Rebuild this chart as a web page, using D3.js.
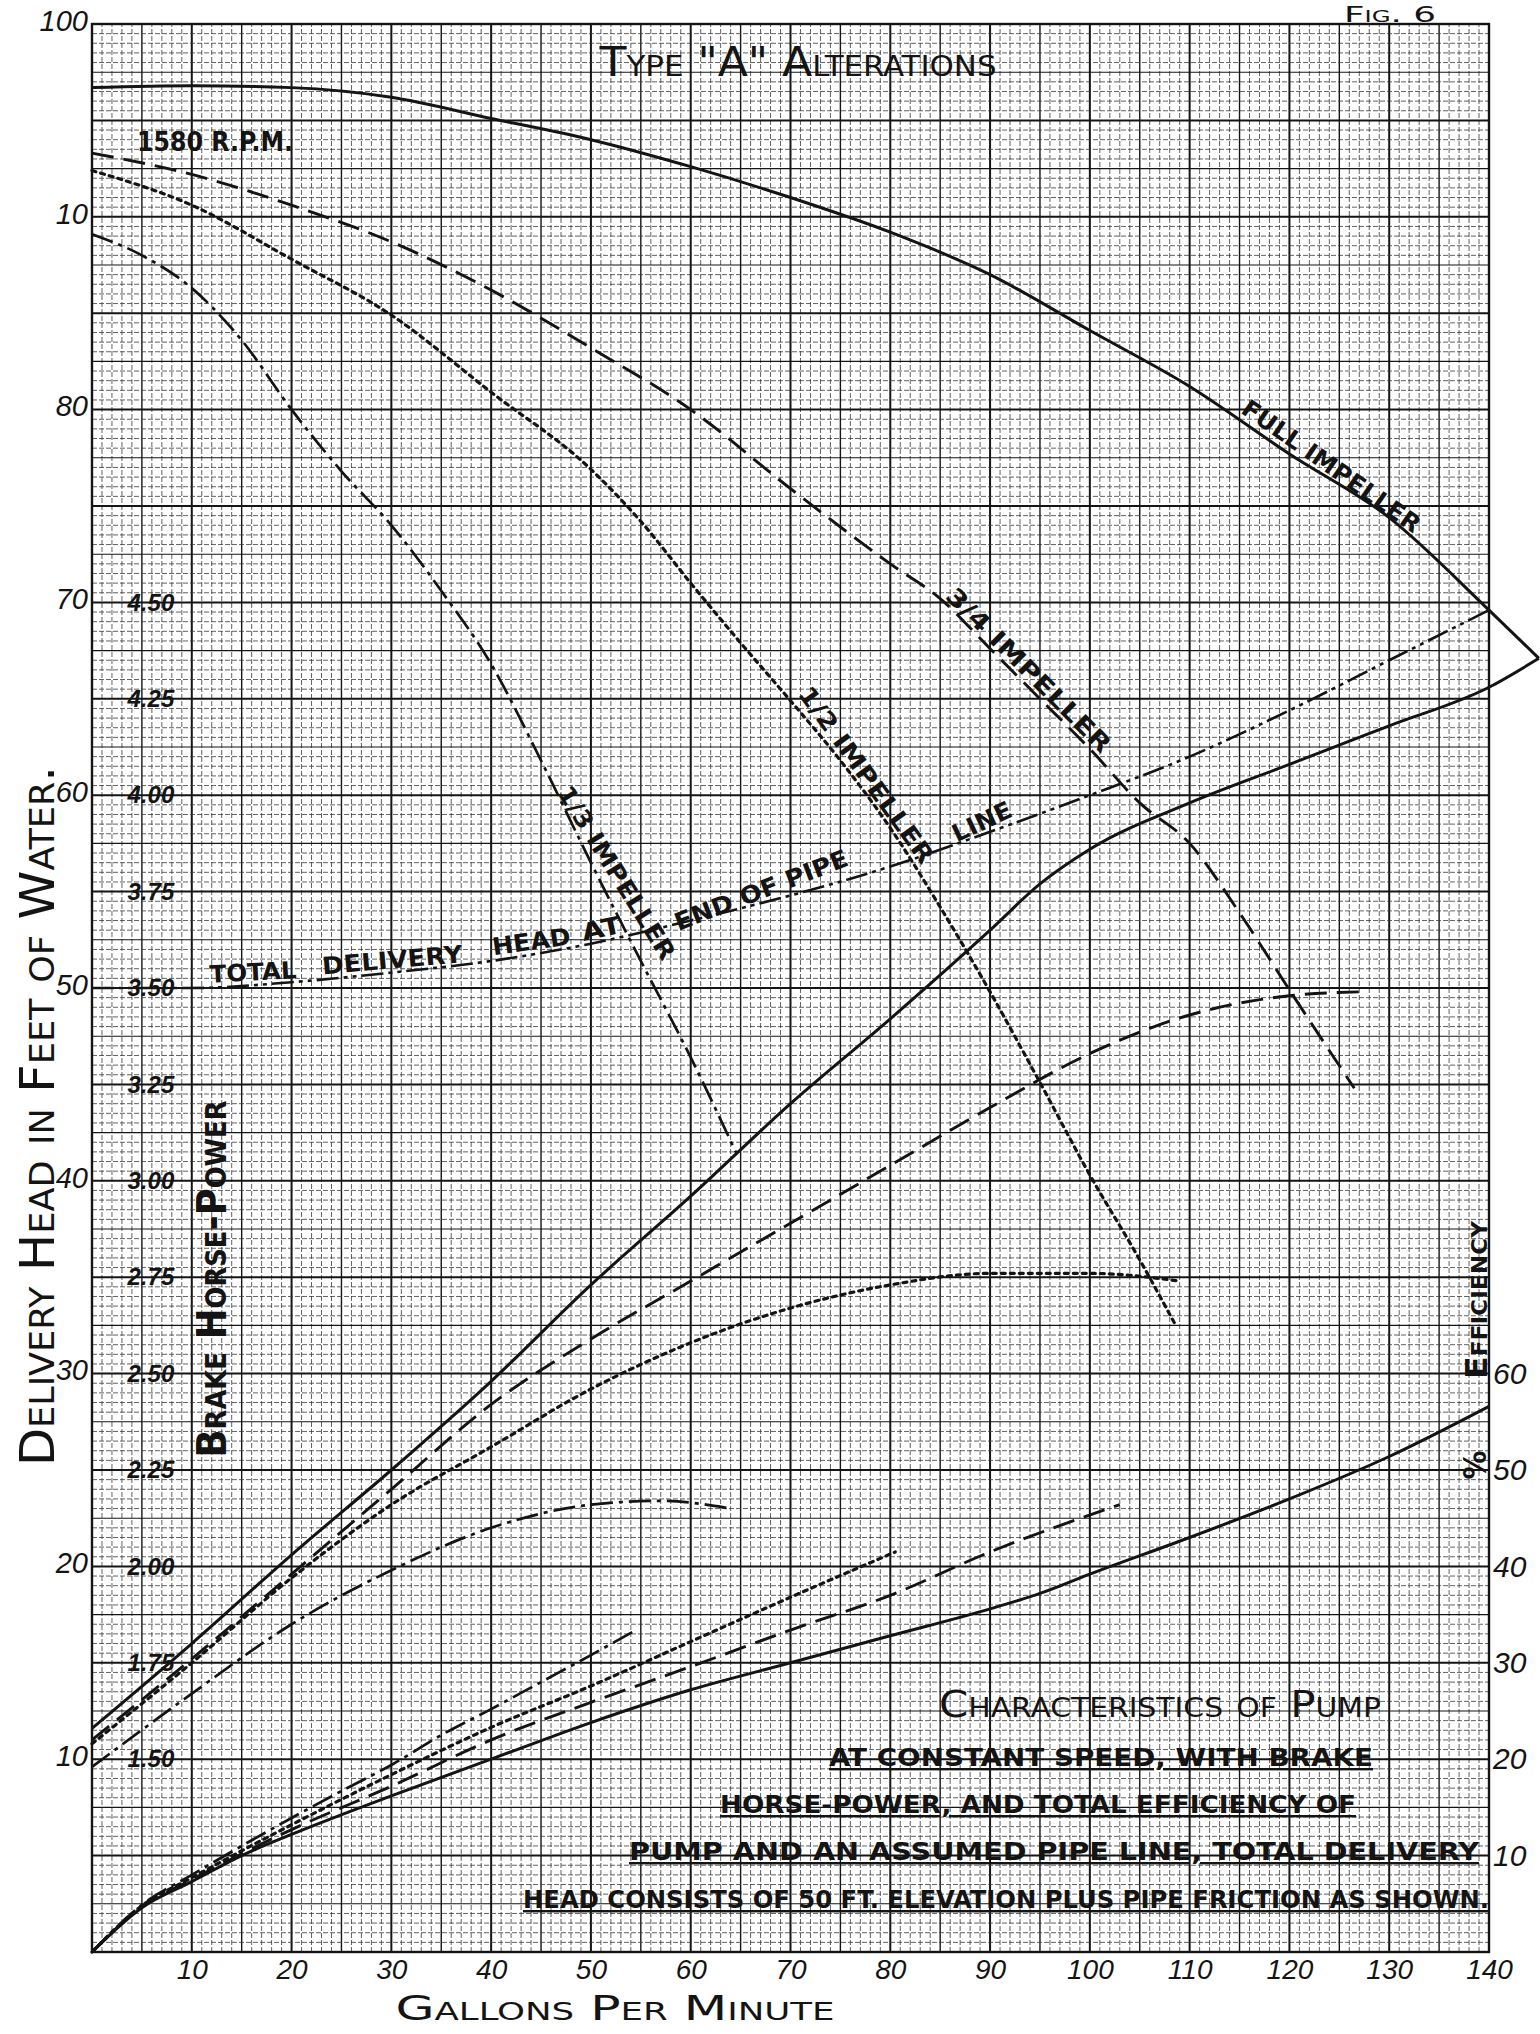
<!DOCTYPE html>
<html>
<head>
<meta charset="utf-8">
<title>Fig. 6 - Type "A" Alterations</title>
<script src="https://cdn.jsdelivr.net/npm/d3@7"></script>
<style>
  body { margin: 0; background: #fff; }
  svg { display: block; }
</style>
</head>
<body>
<div id="container"></div>
<script>
// ---- tick labels -------------------------------------------------------
const gpmTicks = [10, 20, 30, 40, 50, 60, 70, 80, 90, 100, 110, 120, 130, 140];
const headTicks = [100, 90, 80, 70, 60, 50, 40, 30, 20, 10];
// the 90 mark is lettered like "10" on the sheet
const headTickLabels = ["100", "10", "80", "70", "60", "50", "40", "30", "20", "10"];
const bhpTicks = [1.50, 1.75, 2.00, 2.25, 2.50, 2.75, 3.00, 3.25, 3.50, 3.75, 4.00, 4.25, 4.50];
const effTicks = [10, 20, 30, 40, 50, 60];

// ---- delivery head, ft  [gpm, ft] ---------------------------------------
const headFull = [[0, 96.7], [10, 96.8], [20, 96.7], [30, 96.2], [40, 95.1], [50, 94.0], [60, 92.6],
  [70, 91.0], [80, 89.2], [90, 87.0], [100, 84.1], [110, 81.2], [120, 77.7], [130, 74.4],
  [140, 69.6], [145, 67.1]];
const headThreeQ = [[0, 93.3], [10, 92.2], [20, 90.6], [30, 88.7], [40, 86.2], [50, 83.2], [60, 80.0],
  [70, 75.9], [80, 72.0], [85, 70.2], [90, 67.6], [95, 65.0], [100, 62.4], [105, 59.6], [110, 57.5],
  [115, 53.9], [120, 49.9], [126.5, 44.8]];
const headHalf = [[0, 92.4], [10, 90.6], [20, 87.8], [30, 84.9], [40, 80.9], [50, 76.9], [55, 74.2],
  [60, 71.0], [65, 67.9], [70, 64.9], [75, 61.8], [80, 58.3], [85, 54.2], [90, 49.8], [95, 45.1],
  [100, 40.3], [105, 35.9], [108.5, 32.6]];
const headThird = [[0, 89.1], [5, 88.0], [10, 86.3], [15, 83.6], [20, 80.0], [25, 76.8], [30, 74.0],
  [35, 70.6], [40, 66.8], [45, 61.8], [50, 56.5], [55, 51.4], [60, 46.4], [64.6, 41.4]];
const headPipe = [[0, 50.0], [10, 50.0], [20, 50.3], [30, 50.8], [40, 51.4], [50, 52.3], [60, 53.5],
  [70, 54.8], [80, 56.3], [90, 58.1], [100, 60.0], [110, 62.0], [120, 64.4], [130, 67.0], [140, 69.6]];

// ---- brake horse-power  [gpm, hp] ----------------------------------------
const bhpFull = [[0, 1.58], [10, 1.80], [20, 2.03], [30, 2.25], [40, 2.48], [50, 2.73], [60, 2.96],
  [70, 3.20], [80, 3.42], [90, 3.65], [95, 3.77], [100, 3.86], [110, 3.98], [120, 4.08], [130, 4.18],
  [140, 4.28], [145, 4.355]];
const bhpThreeQ = [[0, 1.55], [10, 1.76], [20, 1.98], [30, 2.20], [40, 2.42], [50, 2.59], [60, 2.74],
  [70, 2.89], [80, 3.04], [90, 3.19], [100, 3.33], [110, 3.43], [120, 3.48], [127, 3.49]];
const bhpHalf = [[0, 1.54], [10, 1.75], [20, 1.97], [30, 2.16], [40, 2.31], [50, 2.46], [60, 2.58],
  [70, 2.67], [80, 2.73], [90, 2.76], [100, 2.76], [109, 2.74]];
const bhpThird = [[0, 1.48], [10, 1.67], [20, 1.85], [30, 1.99], [40, 2.10], [50, 2.16], [57, 2.17],
  [64, 2.15]];

// ---- total efficiency, %  [gpm, %] --------------------------------------
const effFull = [[0, 0], [5, 4.6], [10, 7.3], [15, 10.0], [20, 12.2], [30, 16.2], [40, 20.0],
  [50, 23.8], [60, 27.2], [70, 30.0], [80, 32.8], [90, 35.6], [95, 37.2], [100, 39.2], [110, 43.0],
  [120, 47.0], [130, 51.4], [140, 56.6]];
const effThreeQ = [[0, 0], [5, 4.7], [10, 7.5], [15, 10.2], [20, 12.7], [30, 17.2], [40, 22.0],
  [50, 25.9], [60, 29.6], [70, 33.4], [80, 37.0], [90, 41.5], [103, 46.4]];
const effHalf = [[0, 0], [5, 4.8], [10, 7.7], [15, 10.5], [20, 13.2], [30, 18.4], [40, 23.3],
  [50, 27.6], [60, 32.2], [70, 36.8], [80.5, 41.5]];
const effThird = [[0, 0], [5, 4.9], [10, 8.0], [15, 11.0], [20, 13.9], [25, 16.7], [30, 19.4],
  [35, 22.5], [40, 25.2], [45, 28.0], [50, 30.8], [54.5, 33.4]];

// ---- sizes -----------------------------------------------------------------
const WIDTH = 1540, HEIGHT = 2034;
const margin = { left: 92, right: 51, top: 24, bottom: 82 };
const x0 = margin.left, x1 = WIDTH - margin.right;
const y0 = HEIGHT - margin.bottom, y1 = margin.top;

const hand = "'Liberation Sans Narrow','DejaVu Sans Condensed','Liberation Sans',sans-serif";
const ink = "#141414";

const svg = d3.select('#container').append('svg')
  .attr('width', WIDTH).attr('height', HEIGHT)
  .attr('font-family', hand);

svg.append('rect').attr('width', WIDTH).attr('height', HEIGHT).attr('fill', '#fff');

// one x scale, three y scales sharing the same sheet height
const x = d3.scaleLinear().domain([0, 140]).range([x0, x1]);
const yHead = d3.scaleLinear().domain([0, 100]).range([y0, y1]);
const yBhp = d3.scaleLinear().domain([1, 6]).range([y0, y1]);     // 1.50 hp sits on 10 ft
const yEff = d3.scaleLinear().domain([0, 200]).range([y0, y1]);   // 10 % sits on 5 ft

// ---- graph paper ------------------------------------------------------------
const grid = svg.append('g');
const vLines = d3.range(1, 140);
const hLines = d3.range(0.5, 100, 0.5);

grid.selectAll('line.v').data(vLines).join('line')
  .attr('x1', d => x(d)).attr('x2', d => x(d))
  .attr('y1', y0).attr('y2', y1)
  .attr('stroke', d => d % 5 === 0 ? '#151515' : '#3a3a3a')
  .attr('stroke-width', d => d % 10 === 0 ? 2.0 : d % 5 === 0 ? 1.4 : 0.8)
  .attr('stroke-dasharray', d => d % 5 === 0 ? null : '5,2');

grid.selectAll('line.h').data(hLines).join('line')
  .attr('y1', d => yHead(d)).attr('y2', d => yHead(d))
  .attr('x1', x0).attr('x2', x1)
  .attr('stroke', d => d % 2.5 === 0 ? '#151515' : '#3a3a3a')
  .attr('stroke-width', d => d % 5 === 0 ? 2.0 : d % 2.5 === 0 ? 1.1 : 0.8)
  .attr('stroke-dasharray', d => d % 2.5 === 0 ? null : '5,2');

grid.append('rect')
  .attr('x', x0).attr('y', y1)
  .attr('width', x1 - x0).attr('height', y0 - y1)
  .attr('fill', 'none').attr('stroke', ink).attr('stroke-width', 2.4);

// ---- curves ---------------------------------------------------------------------
const styles = {
  full:   { dash: null,                w: 3.0 },
  threeQ: { dash: '22,10',             w: 2.9 },
  half:   { dash: '4,5',               w: 3.2 },
  third:  { dash: '22,6,4,6',          w: 2.7 },
  pipe:   { dash: '22,5,4,5,4,5',      w: 2.6 }
};

const curves = [
  { data: headFull,   y: yHead, s: 'full' },
  { data: headThreeQ, y: yHead, s: 'threeQ' },
  { data: headHalf,   y: yHead, s: 'half' },
  { data: headThird,  y: yHead, s: 'third' },
  { data: headPipe,   y: yHead, s: 'pipe' },
  { data: bhpFull,    y: yBhp,  s: 'full' },
  { data: bhpThreeQ,  y: yBhp,  s: 'threeQ' },
  { data: bhpHalf,    y: yBhp,  s: 'half' },
  { data: bhpThird,   y: yBhp,  s: 'third' },
  { data: effFull,    y: yEff,  s: 'full' },
  { data: effThreeQ,  y: yEff,  s: 'threeQ' },
  { data: effHalf,    y: yEff,  s: 'half' },
  { data: effThird,   y: yEff,  s: 'third' }
];

svg.append('g').selectAll('path').data(curves).join('path')
  .attr('d', c => d3.line().x(d => x(d[0])).y(d => c.y(d[1])).curve(d3.curveMonotoneX)(c.data))
  .attr('fill', 'none')
  .attr('stroke', ink)
  .attr('stroke-width', c => styles[c.s].w)
  .attr('stroke-dasharray', c => styles[c.s].dash)
  .attr('stroke-linecap', c => c.s === 'half' ? 'round' : 'butt');

// ---- axes (labels only, the sheet supplies the rules) ------------------------------------
const tickText = (g, size) => {
  g.select('.domain').remove();
  g.selectAll('.tick line').remove();
  g.attr('font-family', "'Liberation Sans','DejaVu Sans',sans-serif")
    .attr('font-size', size).attr('font-style', 'italic');
  g.selectAll('text').attr('fill', ink);
};

svg.append('g')
  .attr('transform', `translate(${x0 - 4}, -3)`)
  .call(d3.axisLeft(yHead).tickValues(headTicks).tickSize(0).tickPadding(0)
    .tickFormat((d, i) => headTickLabels[i]))
  .call(g => tickText(g, 29));

svg.append('g')
  .attr('transform', `translate(0, ${y0})`)
  .call(d3.axisBottom(x).tickValues(gpmTicks).tickSize(0).tickPadding(7))
  .call(g => tickText(g, 28));

svg.append('g')
  .attr('transform', `translate(${x(5.9)}, 0)`)
  .call(d3.axisLeft(yBhp).tickValues(bhpTicks).tickSize(0).tickPadding(0)
    .tickFormat(d3.format('.2f')))
  .call(g => tickText(g, 24))
  .call(g => g.selectAll('text').attr('text-anchor', 'middle').attr('x', 0).attr('font-weight', 'bold'));

svg.append('g')
  .attr('transform', `translate(${x1 + 3}, 0)`)
  .call(d3.axisRight(yEff).tickValues(effTicks).tickSize(0).tickPadding(1))
  .call(g => tickText(g, 30));

// ---- titles ----------------------------------------------------------------------------
const label = (txt, px, py, o = {}) => svg.append('text')
  .attr('transform', `translate(${px},${py}) rotate(${o.rot || 0})`)
  .attr('dy', o.dy || 0)
  .attr('text-anchor', o.anchor || 'middle')
  .attr('font-size', o.size || 24)
  .attr('font-weight', o.weight || 'bold')
  .attr('font-variant', o.caps ? 'small-caps' : null)
  .attr('text-decoration', o.under ? 'underline' : null)
  .attr('textLength', o.len || null)
  .attr('lengthAdjust', o.len ? 'spacingAndGlyphs' : null)
  .attr('fill', ink)
  .text(txt);

label('Fig. 6', 1390, 22, { size: 22, caps: true, len: 92, weight: 'normal' });
label('Type "A" Alterations', 798, 76, { size: 40, caps: true, len: 397, weight: 'normal' });
label('1580 R.P.M.', 137, 151, { size: 26, anchor: 'start', len: 156 });

label('Delivery Head in Feet of Water.', 54, 1116, { size: 48, caps: true, rot: -90, len: 700, weight: 'normal' });
label('Brake Horse-Power', 226, 1279, { size: 40, caps: true, rot: -90, len: 357 });
label('Efficiency', 1487, 1300, { size: 30, caps: true, rot: -90, len: 158 });
label('%', 1486, 1465, { size: 32, rot: -90 });
label('Gallons Per Minute', 615, 2020, { size: 34, caps: true, len: 439, weight: 'normal' });

// note block, bottom right
label('Characteristics of Pump', 939, 1717, { size: 38, caps: true, anchor: 'start', len: 442, weight: 'normal' });
label('AT CONSTANT SPEED, WITH BRAKE', 829, 1766, { size: 24, anchor: 'start', under: true, len: 544 });
label('HORSE-POWER, AND TOTAL EFFICIENCY OF', 720, 1813, { size: 24, anchor: 'start', under: true, len: 636 });
label('PUMP AND AN ASSUMED PIPE LINE, TOTAL DELIVERY', 629, 1860, { size: 24, anchor: 'start', under: true, len: 850 });
label('HEAD CONSISTS OF 50 FT. ELEVATION PLUS PIPE FRICTION AS SHOWN.', 523, 1908, { size: 24, anchor: 'start', under: true, len: 966 });

// ---- curve names, set on their curve -------------------------------------------------
// value of a curve at a given gpm, read by straight interpolation between its points
const valueAt = (data, g) => {
  const i = Math.min(Math.max(d3.bisector(d => d[0]).left(data, g), 1), data.length - 1);
  const a = data[i - 1], b = data[i];
  return a[1] + (b[1] - a[1]) * (g - a[0]) / (b[0] - a[0]);
};

const curveNames = [
  { t: 'FULL IMPELLER', data: headFull,   g: 123.5, rot: 35,  len: 212, dy: -4 },
  { t: '3/4 IMPELLER',  data: headThreeQ, g: 93.0,  rot: 45,  len: 222, dy: -4 },
  { t: '1/2 IMPELLER',  data: headHalf,   g: 76.6,  rot: 54,  len: 212, dy: -4 },
  { t: '1/3 IMPELLER',  data: headThird,  g: 51.0,  rot: 58,  len: 200, dy: -10 },
  { t: 'TOTAL',         data: headPipe,   g: 16.2,  rot: -3,  len: 87,  dy: -4 },
  { t: 'DELIVERY',      data: headPipe,   g: 30.2,  rot: -5,  len: 141, dy: -4 },
  { t: 'HEAD',          data: headPipe,   g: 44.2,  rot: -8,  len: 79,  dy: -4 },
  { t: 'AT',            data: headPipe,   g: 51.3,  rot: -12, len: 40,  dy: -4 },
  { t: 'END OF PIPE',   data: headPipe,   g: 67.5,  rot: -21, len: 184, dy: -4 },
  { t: 'LINE',          data: headPipe,   g: 89.7,  rot: -25, len: 63,  dy: -4 }
];
curveNames.forEach(c => label(c.t, x(c.g), yHead(valueAt(c.data, c.g)),
  { size: 24, rot: c.rot, len: c.len, dy: c.dy }));
</script>
</body>
</html>
